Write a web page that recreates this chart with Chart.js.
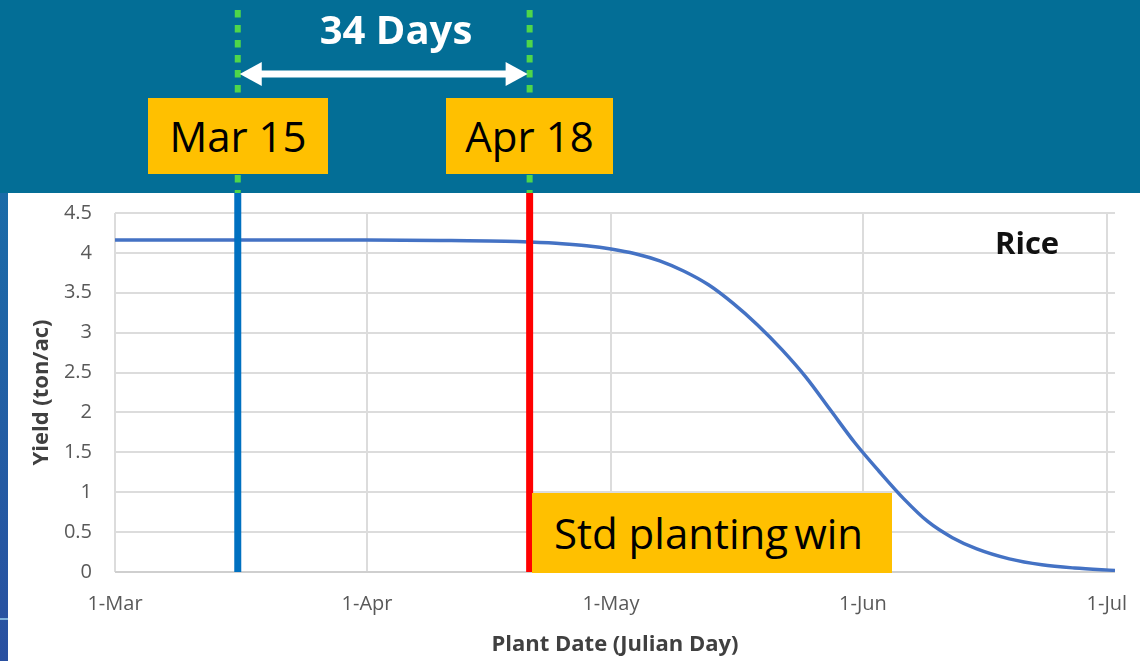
<!DOCTYPE html>
<html>
<head>
<meta charset="utf-8">
<script src="https://cdn.jsdelivr.net/npm/chart.js@4.4.1/dist/chart.umd.min.js"></script>
<style>
  body { margin: 0; background: #fff; font-family: "Open Sans", sans-serif; }
  #wrap { position: relative; width: 1140px; height: 661px; overflow: hidden; }
  #myChart { position: absolute; left: 0; top: 0; }
  .tag { position: absolute; background: #FFC000; color: #000; font-size: 42px; line-height: 1;
         display: flex; align-items: center; justify-content: center; white-space: nowrap; }
  #days { position: absolute; left: 250px; width: 292px; top: 9px; text-align: center;
          color: #fff; font-weight: 700; font-size: 40px; line-height: 1; }
  #rice { position: absolute; left: 995px; top: 227px; font-weight: 700; font-size: 31px;
          line-height: 1; color: #111; }
</style>
</head>
<body>
<div id="wrap">
  <canvas id="myChart" width="1140" height="661"></canvas>
  <div id="days">34 Days</div>
  <div class="tag" style="left:148px;top:98px;width:180px;height:76px;">Mar 15</div>
  <div class="tag" style="left:446px;top:98px;width:167px;height:76px;">Apr 18</div>
  <div class="tag" style="left:532px;top:493px;width:360px;height:80px;justify-content:flex-start;padding-left:22px;box-sizing:border-box;">Std planting<span style="margin-left:6px">win</span></div>
  <div id="rice">Rice</div>
</div>
<script>
/* values; x = days after 1-Mar */
const tickDays = [0, 31, 61, 92, 122];
const tickLabels = ['1-Mar', '1-Apr', '1-May', '1-Jun', '1-Jul'];
const plantDays = [0, 20, 31, 40, 48, 51, 55, 58, 61, 64, 67, 70, 73, 76, 79, 82, 85, 88, 91, 94, 97, 100, 103, 106, 110, 114, 118, 123];
const yieldVals = [4.16, 4.16, 4.16, 4.155, 4.145, 4.135, 4.115, 4.09, 4.05, 3.99, 3.90, 3.77, 3.60, 3.37, 3.10, 2.79, 2.44, 2.03, 1.62, 1.26, 0.92, 0.63, 0.43, 0.29, 0.165, 0.09, 0.05, 0.02];
const markDays = [15.1, 51.0];          // Mar 15 and Apr 18 lines
const markColors = ['#0070C0', '#FF0000'];

const BANNER = 193;
const FONT = "'Open Sans', sans-serif";

const overlay = {
  id: 'overlay',
  beforeDraw(chart) {
    const c = chart.ctx, w = chart.width, h = chart.height;
    c.save();
    c.fillStyle = '#036E96';
    c.fillRect(0, 0, w, BANNER);
    const g = c.createLinearGradient(0, BANNER, 0, h);
    g.addColorStop(0, '#1A6BA8');
    g.addColorStop(1, '#2A50A0');
    c.fillStyle = g;
    c.fillRect(0, BANNER, 8, h - BANNER);
    c.fillStyle = '#7FB2DD';
    c.fillRect(0, 618, 8, 2);
    c.fillStyle = '#fff';
    c.fillRect(8, BANNER, w - 8, h - BANNER);
    c.restore();
  },
  afterDatasetsDraw(chart) {
    const c = chart.ctx, xs = chart.scales.x, ys = chart.scales.y;
    const y0 = ys.getPixelForValue(0);
    const px = markDays.map(d => xs.getPixelForValue(d));
    c.save();
    px.forEach((x, i) => {
      c.strokeStyle = markColors[i];
      c.lineWidth = 7;
      c.beginPath(); c.moveTo(x, y0); c.lineTo(x, BANNER); c.stroke();
      c.strokeStyle = '#4FD64A';
      c.lineWidth = 6;
      c.setLineDash([7.5, 7.5]);
      c.beginPath(); c.moveTo(x, 10); c.lineTo(x, BANNER); c.stroke();
      c.setLineDash([]);
    });
    // double arrow between the two dates
    const ay = 74, a = px[0] + 2, b = px[1] - 2;
    c.strokeStyle = '#fff'; c.fillStyle = '#fff'; c.lineWidth = 7;
    c.beginPath(); c.moveTo(a + 18, ay); c.lineTo(b - 18, ay); c.stroke();
    c.beginPath(); c.moveTo(a, ay); c.lineTo(a + 22, ay - 12); c.lineTo(a + 22, ay + 12); c.closePath(); c.fill();
    c.beginPath(); c.moveTo(b, ay); c.lineTo(b - 22, ay - 12); c.lineTo(b - 22, ay + 12); c.closePath(); c.fill();
    c.restore();
  }
};

new Chart(document.getElementById('myChart'), {
  type: 'line',
  plugins: [overlay],
  data: {
    datasets: [{
      label: 'Rice',
      data: plantDays.map((d, i) => ({x: d, y: yieldVals[i]})),
      borderColor: '#4472C4',
      borderWidth: 3.5,
      pointRadius: 0,
      fill: false,
      cubicInterpolationMode: 'monotone'
    }]
  },
  options: {
    responsive: false,
    animation: false,
    events: [],
    layout: { padding: { left: 0, top: 213, right: 25, bottom: 0 } },
    plugins: { legend: { display: false }, tooltip: { enabled: false } },
    scales: {
      x: {
        type: 'linear',
        min: 0,
        max: 123,
        afterBuildTicks: s => { s.ticks = tickDays.map(v => ({value: v})); },
        afterFit: s => { s.height = 89; s.paddingLeft = 0; s.paddingRight = 0; },
        grid: { color: '#DCDCDC', lineWidth: 2, drawTicks: false },
        border: { display: false },
        ticks: {
          autoSkip: false, maxRotation: 0, padding: 20, color: '#595959',
          font: { family: FONT, size: 20 },
          callback: (v, i) => tickLabels[i]
        },
        title: {
          display: true, text: 'Plant Date (Julian Day)', color: '#404040',
          font: { family: FONT, size: 22, weight: 'bold' }, padding: { top: 0, bottom: 3 }
        }
      },
      y: {
        min: 0,
        max: 4.5,
        afterFit: s => { s.width = 115; },
        grid: {
          drawTicks: false, lineWidth: 2,
          color: ctx => ctx.tick && ctx.tick.value === 0 ? '#CFCFCF' : '#DCDCDC'
        },
        border: { display: false },
        ticks: {
          stepSize: 0.5, padding: 23, color: '#595959',
          font: { family: FONT, size: 20 },
          callback: v => String(v)
        },
        title: {
          display: true, text: 'Yield (ton/ac)', color: '#404040',
          font: { family: FONT, size: 22, weight: 'bold' }, padding: { top: 29, bottom: 0 }
        }
      }
    }
  }
});
</script>
</body>
</html>
